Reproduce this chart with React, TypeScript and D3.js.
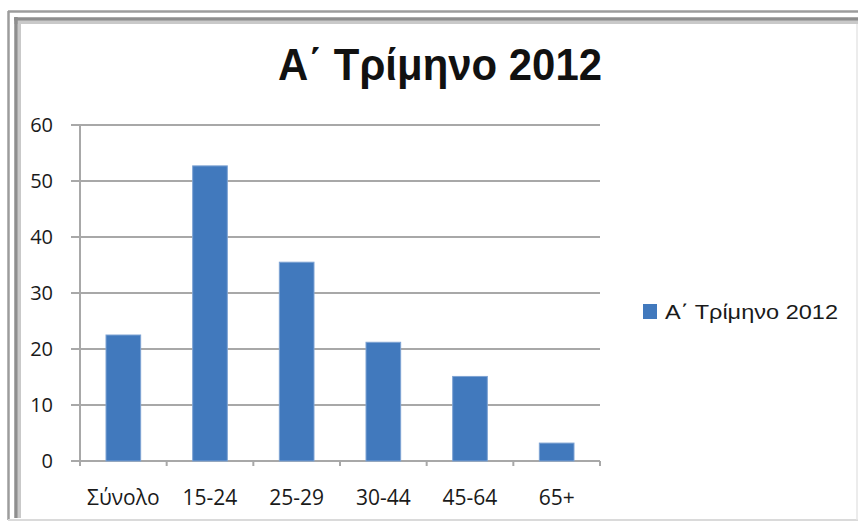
import React from "react";
import * as d3 from "d3";

const categories = ["Σύνολο", "15-24", "25-29", "30-44", "45-64", "65+"];
const values = [22.5, 52.7, 35.5, 21.2, 15.1, 3.2];
const yTicks = [0, 10, 20, 30, 40, 50, 60];
const seriesName = "Α΄ Τρίμηνο 2012";
const title = "Α΄ Τρίμηνο 2012";

const W = 858;
const H = 522;
const plot = { left: 80, right: 600, top: 125, bottom: 461 };
const FONT = "'Open Sans', 'Noto Sans', sans-serif";
const TITLE_FONT = "'Liberation Sans', 'DejaVu Sans', sans-serif";
const BAR = "#4179bd";

export default function App() {
  const x = d3
    .scaleBand<string>()
    .domain(categories)
    .range([plot.left, plot.right])
    .paddingInner(0.6)
    .paddingOuter(0.3);
  const band = d3.scaleBand<string>().domain(categories).range([plot.left, plot.right]);
  const y = d3.scaleLinear().domain([0, 60]).range([plot.bottom, plot.top]);

  const boundaries = categories.map((c) => band(c) as number).concat([plot.right]);

  return (
    <div style={{ position: "absolute", left: 0, top: 0 }}>
      <svg width={W} height={H} style={{ display: "block", background: "#fff" }}>
        {/* frame */}
        <line x1={8} y1={11.5} x2={858} y2={11.5} stroke="#9c9c9c" strokeWidth={2.5} />
        <line x1={8.5} y1={11} x2={8.5} y2={520} stroke="#9c9c9c" strokeWidth={2.5} />
        <line x1={14} y1={19} x2={858} y2={19} stroke="#8e8e8e" strokeWidth={3.5} />
        <line x1={14} y1={22.5} x2={858} y2={22.5} stroke="#c9c9c9" strokeWidth={3} />
        <line x1={16} y1={17} x2={16} y2={518} stroke="#8e8e8e" strokeWidth={3.5} />
        <line x1={19.5} y1={21} x2={19.5} y2={518} stroke="#c9c9c9" strokeWidth={3} />
        <line x1={8} y1={520} x2={858} y2={520} stroke="#dadada" strokeWidth={2} />
        <line x1={857} y1={24} x2={857} y2={520} stroke="#e6e6e6" strokeWidth={1.5} />

        {/* title */}
        <text
          x={440}
          y={80}
          textAnchor="middle"
          fontFamily={TITLE_FONT}
          fontWeight={700}
          fontSize={45}
          fill="#111"
          textLength={324}
          lengthAdjust="spacingAndGlyphs"
        >
          {title}
        </text>

        {/* gridlines */}
        {yTicks.map((t) => (
          <line
            key={"g" + t}
            x1={71}
            x2={plot.right}
            y1={y(t)}
            y2={y(t)}
            stroke="#a8a8a8"
            strokeWidth={2}
          />
        ))}
        {/* y axis */}
        <line x1={plot.left} x2={plot.left} y1={plot.top} y2={466} stroke="#a8a8a8" strokeWidth={2} />
        {/* x ticks */}
        {boundaries.map((b, i) => (
          <line key={"t" + i} x1={b} x2={b} y1={plot.bottom} y2={466} stroke="#a8a8a8" strokeWidth={2} />
        ))}

        {/* y labels */}
        {yTicks.map((t) => (
          <text
            key={"yl" + t}
            x={53}
            y={y(t) + 7}
            textAnchor="end"
            fontFamily={FONT}
            fontSize={20}
            fill="#1a1a1a"
          >
            {t}
          </text>
        ))}

        {/* bars */}
        {categories.map((c, i) => (
          <rect
            key={c}
            x={x(c)}
            y={y(values[i])}
            width={x.bandwidth()}
            height={plot.bottom - y(values[i])}
            fill={BAR}
            stroke="#7ea3d3"
            strokeWidth={1}
          />
        ))}

        {/* x labels */}
        {categories.map((c) => (
          <text
            key={"xl" + c}
            x={(band(c) as number) + band.bandwidth() / 2}
            y={505}
            textAnchor="middle"
            fontFamily={FONT}
            fontSize={21}
            fill="#1a1a1a"
          >
            {c}
          </text>
        ))}

        {/* legend */}
        <rect x={643} y={304} width={14} height={15} fill={BAR} />
        <text
          x={665}
          y={319}
          fontFamily={TITLE_FONT}
          fontSize={21}
          fill="#1a1a1a"
          textLength={173}
          lengthAdjust="spacingAndGlyphs"
        >
          {seriesName}
        </text>
      </svg>
    </div>
  );
}
